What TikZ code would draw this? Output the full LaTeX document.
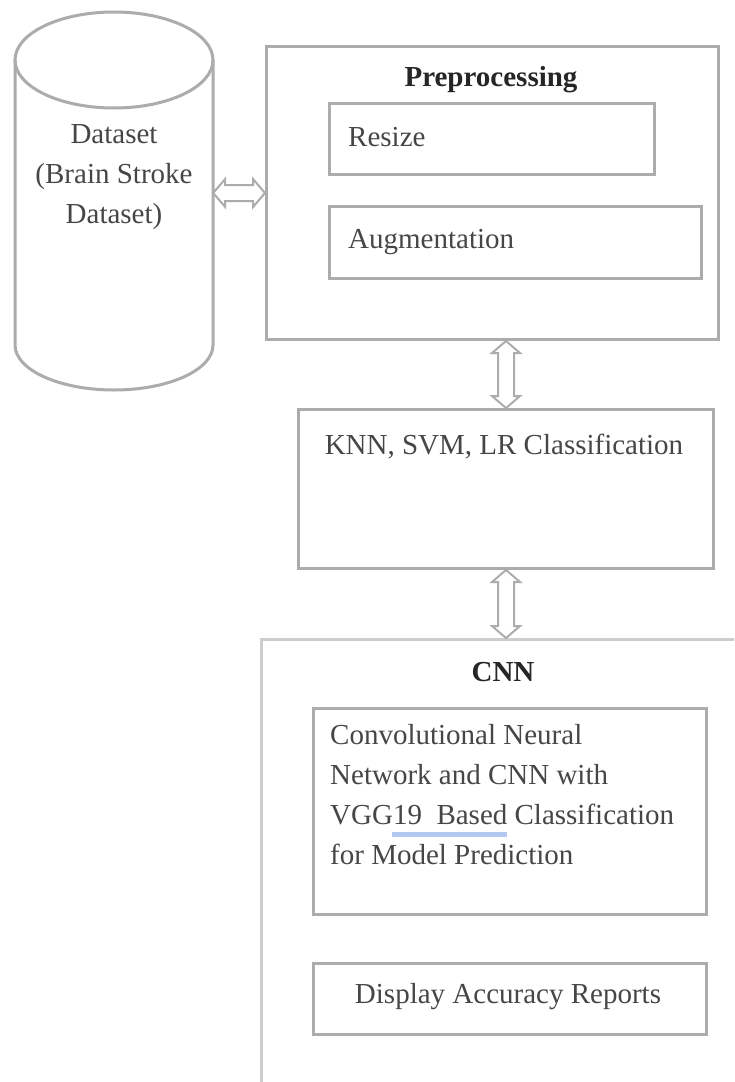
\documentclass[tikz,border=0pt]{standalone}
\usepackage{fontspec}
\setmainfont{Liberation Serif}
\usetikzlibrary{positioning,arrows.meta,calc}
\definecolor{edgegray}{RGB}{172,172,172}
\definecolor{lightedge}{RGB}{205,205,205}
\definecolor{textgray}{RGB}{70,70,70}
\definecolor{markblue}{RGB}{176,200,242}

\begin{document}
\begin{tikzpicture}[x=1pt, y=-1pt,
  box/.style={draw=edgegray, line width=3pt, rectangle, inner sep=0pt, anchor=north west},
  txt/.style={font=\fontsize{29}{40}\selectfont, text=textgray, inner sep=0pt},
  head/.style={txt, font=\fontsize{29}{40}\selectfont\bfseries, text=black!85},
  % hollow two-headed block arrow between two anchors
  link/.style={draw=edgegray, line width=2pt, line join=miter, to path={
    (\tikztostart)
    -- ($(\tikztostart)!12pt!(\tikztotarget)!14pt!90:(\tikztotarget)$)
    -- ($(\tikztostart)!12pt!(\tikztotarget)!8pt!90:(\tikztotarget)$)
    -- ($(\tikztotarget)!12pt!(\tikztostart)!8pt!-90:(\tikztostart)$)
    -- ($(\tikztotarget)!12pt!(\tikztostart)!14pt!-90:(\tikztostart)$)
    -- (\tikztotarget)
    -- ($(\tikztotarget)!12pt!(\tikztostart)!14pt!90:(\tikztostart)$)
    -- ($(\tikztotarget)!12pt!(\tikztostart)!8pt!90:(\tikztostart)$)
    -- ($(\tikztostart)!12pt!(\tikztotarget)!8pt!-90:(\tikztotarget)$)
    -- ($(\tikztostart)!12pt!(\tikztotarget)!14pt!-90:(\tikztotarget)$)
    -- cycle}}
]
% page: 1 unit = 1 pixel of the sketch
\clip (0,0) rectangle (734,1082);
\fill[white] (0,0) rectangle (734,1082);

% Dataset cylinder
\draw[edgegray, line width=3pt] (15,60) -- (15,345) arc[start angle=180, end angle=0, x radius=99, y radius=45] -- (213,60);
\draw[edgegray, line width=3pt] (114,60) ellipse[x radius=99, y radius=48];
\node[txt, align=center, minimum width=198] (ds) at (114,177) {Dataset\\(Brain Stroke\\Dataset)};

% Preprocessing
\node[box, minimum width=452, minimum height=293] (pre) at (265,45) {};
\node[head] (pretitle) at (491,80) {Preprocessing};
\node[box, minimum width=325, minimum height=71] (resize) at (328,102) {};
\node[txt, anchor=west] (resizetxt) at (348,137) {Resize};
\node[box, minimum width=372, minimum height=72] (aug) at (328,205) {};
\node[txt, anchor=west] (augtxt) at (348,242) {Augmentation};

% Classical classifiers
\node[box, minimum width=415, minimum height=159] (knn) at (297,408) {};
\node[txt] (knntxt) at (504,447) {KNN, SVM, LR Classification};

% CNN block (runs off the page)
\node[box, draw=lightedge, minimum width=520, minimum height=500] (cnn) at (260,638) {};
\node[head] (cnntitle) at (503,672) {CNN};
\node[box, minimum width=393, minimum height=206] (model) at (312,707) {};
\node[txt, align=left, anchor=north west] (modeltxt) at (330,724)
  {Convolutional Neural\\Network and CNN with\\VGG19\ \ Based Classification\\for Model Prediction};
\draw[markblue, line width=5pt] (392,834) -- (507,834);
\node[box, minimum width=393, minimum height=71] (report) at (312,962) {};
\node[txt] (reporttxt) at (508,997) {Display Accuracy Reports};

% links
\draw[link] (pre.west -| ds.east) to (pre.west);
\draw[link] (knn.north |- pre.south) to (knn.north);
\draw[link] (knn.south) to (knn.south |- cnn.north);
\end{tikzpicture}
\end{document}
